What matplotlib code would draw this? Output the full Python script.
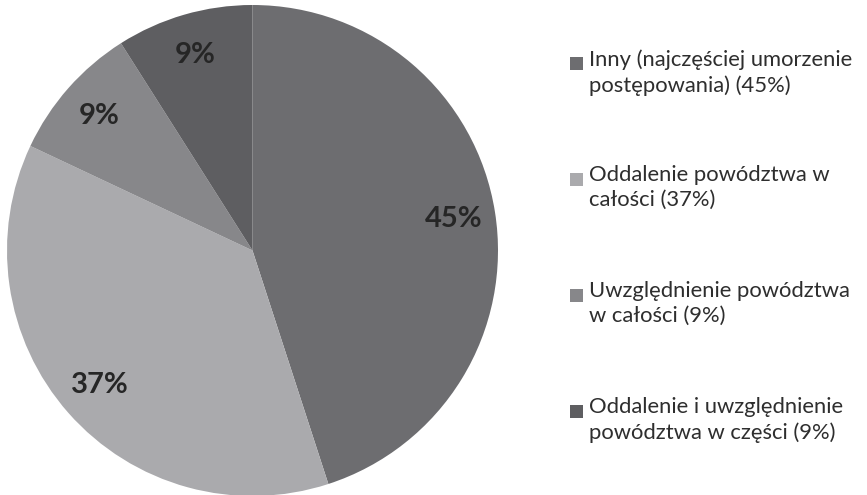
import matplotlib.pyplot as plt
from matplotlib.patches import Rectangle

labels = ['Inny (najczęściej umorzenie\npostępowania) (45%)',
          'Oddalenie powództwa w\ncałości (37%)',
          'Uwzględnienie powództwa\nw całości (9%)',
          'Oddalenie i uwzględnienie\npowództwa w części (9%)']
shares = [45, 37, 9, 9]
colors = ['#6d6d70', '#aaaaad', '#87878a', '#5e5e61']

plt.rcParams['font.family'] = ['Lato', 'DejaVu Sans']

W, H = 867, 495
fig = plt.figure(figsize=(W / 100, H / 100), dpi=100)

# pie occupies a square area on the left
ax = fig.add_axes([7 / W, -1 / H, 491 / W, 491 / H])
wedges, texts, autotexts = ax.pie(
    shares, colors=colors, startangle=90, counterclock=False,
    autopct='%.0f%%', pctdistance=0.83,
    textprops={'fontsize': 21, 'fontweight': 'bold', 'color': '#262626'})
ax.set_xlim(-1, 1)
ax.set_ylim(-1, 1)
ax.set_aspect('equal')

# hand-made legend: square beside first line of each label
y0 = 63
step = 116
for i, (lab, w) in enumerate(zip(labels, wedges)):
    yc = y0 + i * step
    fig.patches.append(Rectangle((570 / W, 1 - (yc + 6.5) / H), 13 / W, 13 / H,
                                 transform=fig.transFigure,
                                 facecolor=w.get_facecolor(), edgecolor='none'))
    fig.text(589 / W, 1 - (yc - 14) / H, lab, fontsize=15.8, color='#2e2e2e',
             va='top', ha='left', linespacing=1.33)

fig.savefig('out.png', dpi=100)
